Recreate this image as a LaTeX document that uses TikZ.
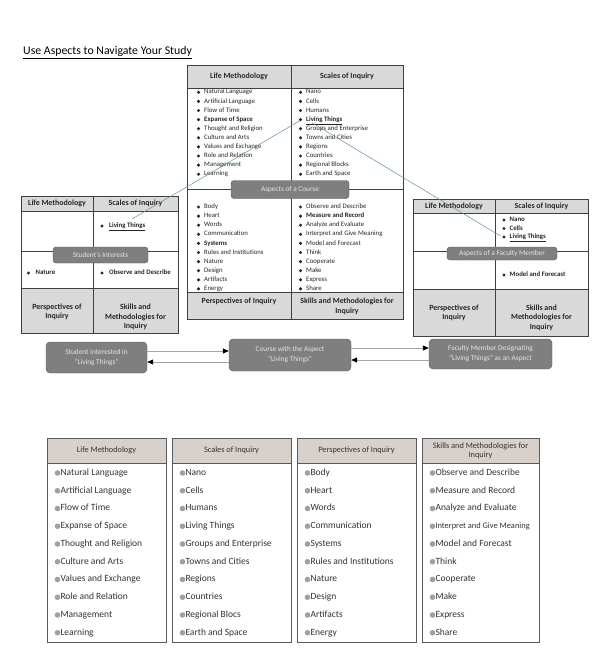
\documentclass[tikz,border=0pt]{standalone}
\usepackage{fontspec}
\setmainfont{Carlito}
\usetikzlibrary{arrows.meta,calc}
\definecolor{hdrgray}{HTML}{D9D9D9}
\definecolor{gridedge}{HTML}{3F3F3F}
\definecolor{pillfill}{HTML}{7F7F7F}
\definecolor{pilledge}{HTML}{595959}
\definecolor{pilltext}{HTML}{E6E6E6}
\definecolor{linkteal}{HTML}{5A93A3}
\definecolor{thead}{HTML}{D8D0CA}
\definecolor{tedge}{HTML}{5A5A5A}
\definecolor{tdot}{HTML}{A0A0A0}
\definecolor{ttext}{HTML}{333333}
\definecolor{arrgray}{HTML}{A6A6A6}

\newcommand\tablecolumn[5]{%
  \fill[thead] (#1,438) rectangle (#2,463);
  \draw[tbox] (#1,438) rectangle (#2,642);
  \draw[tbox] (#1,463) -- (#2,463);
  \node[thdr] (#3h) at ({(#1+#2)/2},450.5) {#4};
  \foreach \itm [count=\i from 0] in {#5} {
    \fill[tdot] (#1+10.5,473+17.75*\i) circle (2.8pt);
    \node[titem] (#3\i) at (#1+13.3,473+17.75*\i) {\itm};
  }
}
\newcommand\gridlist[4]{%
  \foreach \itm [count=\i from 0] in {#4} {
    \fill[black!85] (#1,#2+9.1*\i) circle (1.7pt);
    \node[gitem] (#3\i) at (#1+5.5,#2+9.1*\i) {\itm};
  }
}

\begin{document}
\begin{tikzpicture}[x=1pt,y=-1pt,
  gridln/.style={draw=gridedge,line width=0.9pt},
  ghdr/.style={font=\bfseries\fontsize{7.9}{9.5}\selectfont,align=center,inner sep=0pt,text=black!85},
  gitem/.style={anchor=west,inner sep=0pt,font=\fontsize{6.8}{8}\selectfont,text height=4.6pt,text depth=1.4pt,text=black!85},
  sitem/.style={gitem,font=\bfseries\fontsize{6.8}{8}\selectfont},
  pill/.style={draw=pilledge,fill=pillfill,rounded corners=3pt,text=pilltext,font=\fontsize{7.3}{9}\selectfont,align=center,inner sep=0pt},
  flowbox/.style={pill,rounded corners=4pt,font=\fontsize{7.3}{10}\selectfont},
  flowarr/.style={draw=arrgray,line width=0.8pt,-{Triangle[length=6pt,width=5pt,color=black]}},
  linkln/.style={draw=linkteal,line width=0.5pt},
  tbox/.style={draw=tedge,line width=0.7pt},
  thdr/.style={font=\fontsize{8.3}{8.6}\selectfont,align=center,inner sep=0pt,text=ttext},
  titem/.style={anchor=west,inner sep=0pt,font=\fontsize{9.5}{10}\selectfont,text height=6.5pt,text depth=2pt,text=ttext}]
\useasboundingbox (0,0) rectangle (610,661);

% title
\node[anchor=base west,inner sep=0pt,font=\fontsize{11.8}{13}\selectfont] (title) at (23,55) {\underline{Use Aspects to Navigate Your Study}};

% ===== central grid =====
\fill[hdrgray] (187,65) rectangle (403,88);
\fill[hdrgray] (187,292) rectangle (403,319);
\draw[gridln] (187,65) rectangle (403,319);
\draw[gridln] (187,88) -- (403,88);
\draw[gridln] (187,292) -- (403,292);
\draw[gridln] (187,189) -- (403,189);
\draw[gridln] (291,65) -- (291,319);
\node[ghdr] (cLM) at (239,76.5) {Life Methodology};
\node[ghdr] (cSI) at (347,76.5) {Scales of Inquiry};
\node[ghdr,anchor=north] (cPI) at (239,298) {Perspectives of Inquiry};
\node[ghdr,anchor=north] (cSM) at (347,298) {Skills and Methodologies for\\Inquiry};
\gridlist{198.5}{92.3}{lm}{Natural Language, Artificial Language, Flow of Time, \textbf{Expanse of Space}, Thought and Religion, Culture and Arts, Values and Exchange, Role and Relation, Management, Learning}
\gridlist{300.5}{92.3}{sc}{Nano, Cells, Humans, \textbf{\underline{Living Things}}, Groups and Enterprise, Towns and Cities, Regions, Countries, Regional Blocks, Earth and Space}
\gridlist{198.5}{207}{pe}{Body, Heart, Words, Communication, \textbf{Systems}, Rules and Institutions, Nature, Design, Artifacts, Energy}
\gridlist{300.5}{207}{sk}{Observe and Describe, \textbf{Measure and Record}, Analyze and Evaluate, Interpret and Give Meaning, Model and Forecast, Think, Cooperate, Make, Express, Share}
\node[pill,minimum width=118pt,minimum height=18pt] (aspc) at (290,189.5) {Aspects of a Course};

% ===== left grid =====
\fill[hdrgray] (21,196) rectangle (178,211);
\fill[hdrgray] (21,288) rectangle (178,333);
\draw[gridln] (21,196) rectangle (178,333);
\draw[gridln] (21,211) -- (178,211);
\draw[gridln] (21,288) -- (178,288);
\draw[gridln] (21,251) -- (178,251);
\draw[gridln] (93,196) -- (93,333);
\node[ghdr] (lLM) at (57,203.5) {Life Methodology};
\node[ghdr] (lSI) at (135.5,203.5) {Scales of Inquiry};
\node[ghdr] (lPI) at (57,312) {Perspectives of\\Inquiry};
\node[ghdr] (lSM) at (135.5,317) {Skills and\\Methodologies for\\Inquiry};
\fill[black!85] (102,226) circle (1.7pt);
\node[sitem] (ll1) at (109,226) {\underline{Living Things}};
\fill[black!85] (28.5,273) circle (1.7pt);
\node[sitem] (ll2) at (35.5,273) {Nature};
\fill[black!85] (102,273) circle (1.7pt);
\node[sitem] (ll3) at (109,273) {Observe and Describe};
\node[pill,minimum width=95pt,minimum height=16pt] (stint) at (100.5,255) {Student's Interests};

% ===== right grid =====
\fill[hdrgray] (413,199) rectangle (588,213);
\fill[hdrgray] (413,289) rectangle (588,336);
\draw[gridln] (413,199) rectangle (588,336);
\draw[gridln] (413,213) -- (588,213);
\draw[gridln] (413,289) -- (588,289);
\draw[gridln] (413,251) -- (588,251);
\draw[gridln] (495,199) -- (495,336);
\node[ghdr] (rLM) at (454,206) {Life Methodology};
\node[ghdr] (rSI) at (541.5,206) {Scales of Inquiry};
\node[ghdr] (rPI) at (454,313) {Perspectives of\\Inquiry};
\node[ghdr] (rSM) at (541.5,317.5) {Skills and\\Methodologies for\\Inquiry};
\fill[black!85] (504,220) circle (1.7pt);
\node[sitem] (rl1) at (509.5,220) {Nano};
\fill[black!85] (504,228.5) circle (1.7pt);
\node[sitem] (rl2) at (509.5,228.5) {Cells};
\fill[black!85] (504,237) circle (1.7pt);
\node[sitem] (rl3) at (509.5,237) {\underline{Living Things}};
\fill[black!85] (504,275) circle (1.7pt);
\node[sitem] (rl4) at (509.5,275) {Model and Forecast};
\node[pill,minimum width=110pt,minimum height=13pt] (facm) at (502,253.5) {Aspects of a Faculty Member};

% ===== link lines =====
\draw[linkln] ($(ll1.north)+(5,-4)$) -- ($(sc3.west)+(-6,1)$);
\draw[linkln] ($(sc3.south west)+(6,0)$) -- ($(rl3.west)+(-9,-1)$);

% ===== flow row =====
\node[flowbox,minimum width=101pt,minimum height=31pt] (stud) at (96.5,357.5) {Student Interested in\\``Living Things''};
\node[flowbox,minimum width=122pt,minimum height=32pt] (course) at (290,355) {Course with the Aspect\\``Living Things''};
\node[flowbox,minimum width=123pt,minimum height=30pt] (fac) at (490.5,354) {Faculty Member Designating\\``Living Things'' as an Aspect};
\coordinate (a1) at ([yshift=6.5pt]stud.east);
\draw[flowarr] (a1) -- (a1 -| course.west);
\coordinate (a2) at ([yshift=-4.5pt]stud.east);
\draw[flowarr] (a2 -| course.west) -- (a2);
\coordinate (a3) at ([yshift=7pt]course.east);
\draw[flowarr] (a3) -- (a3 -| fac.west);
\coordinate (a4) at ([yshift=-6pt]fac.west);
\draw[flowarr] (a4) -- (a4 -| course.east);

% ===== bottom table =====
\tablecolumn{47}{166}{tl}{Life Methodology}{Natural Language, Artificial Language, Flow of Time, Expanse of Space, Thought and Religion, Culture and Arts, Values and Exchange, Role and Relation, Management, Learning}
\tablecolumn{172}{291}{ts}{Scales of Inquiry}{Nano, Cells, Humans, Living Things, Groups and Enterprise, Towns and Cities, Regions, Countries, Regional Blocs, Earth and Space}
\tablecolumn{297}{416}{tp}{Perspectives of Inquiry}{Body, Heart, Words, Communication, Systems, Rules and Institutions, Nature, Design, Artifacts, Energy}
\tablecolumn{422}{539}{tk}{Skills and Methodologies for\\Inquiry}{Observe and Describe, Measure and Record, Analyze and Evaluate, {\fontsize{8.4}{9}\selectfont Interpret and Give Meaning}, Model and Forecast, Think, Cooperate, Make, Express, Share}
\end{tikzpicture}
\end{document}
